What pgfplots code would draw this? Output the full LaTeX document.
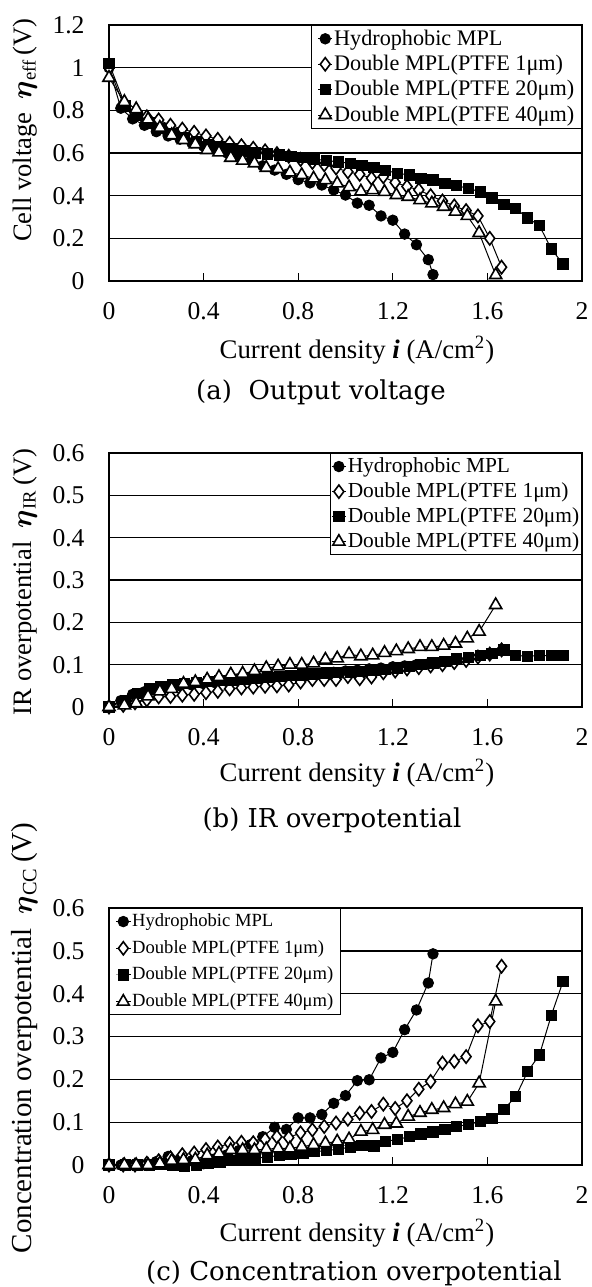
\documentclass[border=0pt]{standalone}
\usepackage{fontspec}
\setmainfont{Liberation Serif}
\newfontfamily\capfont{DejaVu Serif}
\usepackage{bm}
\usepackage{pgfplots}
\pgfplotsset{compat=1.18}
\pgfplotsset{
  base/.style={
    scale only axis, width=236.5pt, anchor=south west,
    xmin=0, xmax=2, xtick={0,0.4,0.8,1.2,1.6,2}, xticklabels={0,0.4,0.8,1.2,1.6,2},
    tick align=inside, xtick pos=lower, ytick pos=left,
    major tick length=4pt, ytick style={draw=none}, xtick style={black, line width=0.6pt},
    ymajorgrids, grid style={black, line width=0.65pt},
    axis line style={line width=0.75pt},
    every tick label/.append style={font=\fontsize{12.8}{14}\selectfont},
    yticklabel style={xshift=-8.7pt},
    xticklabel style={yshift=-7.4pt},
    clip=false,
    legend cell align=left,
    legend image code/.code={\draw[mark repeat=2,mark phase=2,##1] plot coordinates {(0pt,0pt) (3.6pt,0pt) (7.2pt,0pt)};},
  },
  sH/.style={black, line width=0.5pt, mark=*, mark size=2.6pt, mark options={solid, fill=black, line width=0.5pt}},
  sA/.style={black, line width=0.5pt, mark=diamond*, mark size=3.3pt, mark options={solid, fill=white, line width=0.8pt}},
  sB/.style={black, line width=0.5pt, mark=square*, mark size=2.6pt, mark options={solid, fill=black, line width=0.5pt}},
  sC/.style={black, line width=0.5pt, mark=triangle*, mark size=3.5pt, mark options={solid, fill=white, line width=0.8pt}},
}
\newcommand{\labfont}{\fontsize{13.4}{15}\selectfont}
\newcommand{\ylabfont}{\fontsize{13.3}{15}\selectfont}
\newcommand{\capf}{\capfont\fontsize{13}{15}\selectfont}
\begin{document}
\begin{tikzpicture}
\useasboundingbox (0,0) rectangle (295.5pt,-643.5pt);
% ---------------- (a)
\begin{axis}[base, at={(54.5pt,-140.5pt)}, height=128pt,
  ymin=0, ymax=1.2, ytick={0,0.2,0.4,0.6,0.8,1,1.2}, yticklabels={0,0.2,0.4,0.6,0.8,1,1.2},
  legend style={at={(rel axis cs:1,1)}, anchor=north east, draw=black, line width=0.6pt, fill=white,
    font=\fontsize{11.1}{13}\selectfont, inner xsep=3pt, inner ysep=1.5pt, row sep=2.5pt,
    nodes={inner xsep=0.6pt, inner ysep=0.5pt}}]
\addplot[sH] coordinates {(0,1.00)(0.05,0.81)(0.10,0.76)(0.15,0.73)(0.20,0.70)(0.25,0.68)(0.30,0.665)(0.35,0.648)(0.40,0.632)(0.45,0.615)(0.50,0.60)(0.55,0.585)(0.60,0.565)(0.65,0.54)(0.70,0.52)(0.75,0.50)(0.80,0.475)(0.85,0.46)(0.90,0.45)(0.95,0.427)(1.00,0.403)(1.05,0.365)(1.10,0.355)(1.15,0.305)(1.20,0.285)(1.25,0.22)(1.30,0.17)(1.35,0.10)(1.37,0.03)};
\addplot[sA] coordinates {(0,1.00)(0.06,0.83)(0.11,0.79)(0.16,0.77)(0.21,0.755)(0.26,0.73)(0.31,0.712)(0.36,0.697)(0.41,0.68)(0.46,0.664)(0.51,0.645)(0.56,0.634)(0.61,0.622)(0.66,0.61)(0.71,0.597)(0.76,0.585)(0.81,0.57)(0.86,0.556)(0.91,0.545)(0.96,0.53)(1.01,0.512)(1.06,0.50)(1.11,0.482)(1.16,0.489)(1.21,0.462)(1.26,0.443)(1.31,0.427)(1.36,0.40)(1.41,0.375)(1.46,0.352)(1.51,0.33)(1.56,0.305)(1.61,0.20)(1.66,0.065)};
\addplot[sB] coordinates {(0,1.02)(0.07,0.82)(0.12,0.775)(0.17,0.74)(0.22,0.715)(0.27,0.69)(0.32,0.67)(0.37,0.655)(0.42,0.64)(0.47,0.63)(0.52,0.62)(0.57,0.61)(0.62,0.60)(0.67,0.595)(0.72,0.59)(0.77,0.585)(0.82,0.578)(0.87,0.57)(0.92,0.565)(0.97,0.558)(1.02,0.552)(1.07,0.541)(1.12,0.532)(1.17,0.518)(1.22,0.505)(1.27,0.497)(1.32,0.481)(1.37,0.473)(1.42,0.458)(1.47,0.447)(1.52,0.434)(1.57,0.418)(1.62,0.39)(1.67,0.36)(1.72,0.34)(1.77,0.295)(1.82,0.26)(1.87,0.15)(1.92,0.08)};
\addplot[sC] coordinates {(0,0.953)(0.065,0.84)(0.115,0.806)(0.165,0.758)(0.215,0.719)(0.265,0.684)(0.315,0.661)(0.365,0.641)(0.415,0.614)(0.465,0.603)(0.515,0.578)(0.565,0.564)(0.615,0.552)(0.665,0.531)(0.715,0.525)(0.765,0.509)(0.815,0.497)(0.865,0.481)(0.915,0.473)(0.965,0.458)(1.015,0.44)(1.065,0.42)(1.115,0.426)(1.165,0.418)(1.215,0.403)(1.265,0.395)(1.315,0.379)(1.365,0.364)(1.415,0.348)(1.465,0.325)(1.515,0.305)(1.565,0.225)(1.635,0.028)};
\legend{Hydrophobic MPL, Double MPL(PTFE 1μm), Double MPL(PTFE 20μm), Double MPL(PTFE 40μm)}
\end{axis}
% ---------------- (b)
\begin{axis}[base, at={(54.5pt,-353.5pt)}, height=127pt,
  ymin=0, ymax=0.6, ytick={0,0.1,0.2,0.3,0.4,0.5,0.6}, yticklabels={0,0.1,0.2,0.3,0.4,0.5,0.6},
  legend style={at={(rel axis cs:1,1)}, anchor=north east, draw=black, line width=0.6pt, fill=white,
    font=\fontsize{10.7}{12.5}\selectfont, inner xsep=0.5pt, inner ysep=1.5pt, row sep=2.6pt,
    nodes={inner xsep=0.6pt, inner ysep=0.5pt}}]
\addplot[sH] coordinates {(0,0)(0.05,0.015)(0.10,0.03)(0.15,0.036)(0.20,0.042)(0.25,0.046)(0.30,0.05)(0.35,0.052)(0.40,0.055)(0.45,0.057)(0.50,0.06)(0.55,0.062)(0.60,0.065)(0.65,0.067)(0.70,0.07)(0.75,0.072)(0.80,0.075)(0.85,0.077)(0.90,0.08)(0.95,0.082)(1.00,0.085)(1.05,0.087)(1.10,0.09)(1.15,0.092)(1.20,0.095)(1.25,0.097)(1.30,0.10)(1.35,0.102)(1.37,0.104)};
\addplot[sA] coordinates {(0,0)(0.06,0.004)(0.11,0.01)(0.16,0.017)(0.21,0.024)(0.26,0.025)(0.31,0.028)(0.36,0.03)(0.41,0.034)(0.46,0.037)(0.51,0.043)(0.56,0.045)(0.61,0.047)(0.66,0.049)(0.71,0.05)(0.76,0.052)(0.81,0.059)(0.86,0.065)(0.91,0.065)(0.96,0.065)(1.01,0.072)(1.06,0.067)(1.11,0.071)(1.16,0.081)(1.21,0.085)(1.26,0.09)(1.31,0.093)(1.36,0.097)(1.41,0.10)(1.46,0.105)(1.51,0.11)(1.56,0.118)(1.61,0.125)(1.66,0.135)};
\addplot[sB] coordinates {(0,0)(0.07,0.016)(0.12,0.032)(0.17,0.043)(0.22,0.049)(0.27,0.053)(0.32,0.056)(0.37,0.058)(0.42,0.06)(0.47,0.062)(0.52,0.064)(0.57,0.066)(0.62,0.068)(0.67,0.07)(0.72,0.072)(0.77,0.074)(0.82,0.076)(0.87,0.078)(0.92,0.08)(0.97,0.082)(1.02,0.083)(1.07,0.084)(1.12,0.086)(1.17,0.088)(1.22,0.092)(1.27,0.096)(1.32,0.10)(1.37,0.104)(1.42,0.108)(1.47,0.113)(1.52,0.117)(1.57,0.121)(1.62,0.126)(1.67,0.135)(1.72,0.122)(1.77,0.12)(1.82,0.122)(1.87,0.121)(1.92,0.122)};
\addplot[sC] coordinates {(0,0)(0.065,0.004)(0.115,0.009)(0.165,0.025)(0.215,0.037)(0.265,0.043)(0.315,0.055)(0.365,0.059)(0.415,0.065)(0.465,0.071)(0.515,0.077)(0.565,0.079)(0.615,0.085)(0.665,0.092)(0.715,0.096)(0.765,0.10)(0.815,0.10)(0.865,0.103)(0.915,0.112)(0.965,0.115)(1.015,0.125)(1.065,0.12)(1.115,0.122)(1.165,0.128)(1.215,0.132)(1.265,0.137)(1.315,0.142)(1.365,0.142)(1.415,0.145)(1.465,0.15)(1.515,0.162)(1.565,0.178)(1.635,0.241)};
\legend{Hydrophobic MPL, Double MPL(PTFE 1μm), Double MPL(PTFE 20μm), Double MPL(PTFE 40μm)}
\end{axis}
% ---------------- (c)
\begin{axis}[base, at={(54.5pt,-582.5pt)}, height=128.5pt,
  ymin=0, ymax=0.6, ytick={0,0.1,0.2,0.3,0.4,0.5,0.6}, yticklabels={0,0.1,0.2,0.3,0.4,0.5,0.6},
  legend style={at={(rel axis cs:0,1)}, anchor=north west, draw=black, line width=0.6pt, fill=white,
    font=\fontsize{9.3}{11}\selectfont, inner xsep=3pt, inner ysep=2pt, row sep=4.4pt,
    nodes={inner xsep=0.6pt, inner ysep=0.5pt}}]
\addplot[sH] coordinates {(0,0)(0.05,0)(0.10,0)(0.15,0)(0.20,0.008)(0.25,0.02)(0.30,0.014)(0.35,0.01)(0.40,0.003)(0.45,0.014)(0.50,0.024)(0.55,0.034)(0.60,0.048)(0.65,0.066)(0.70,0.088)(0.75,0.083)(0.80,0.11)(0.85,0.11)(0.90,0.118)(0.95,0.144)(1.00,0.162)(1.05,0.197)(1.10,0.199)(1.15,0.25)(1.20,0.263)(1.25,0.316)(1.30,0.362)(1.35,0.425)(1.37,0.493)};
\addplot[sA] coordinates {(0,0)(0.06,0)(0.11,0)(0.16,0.004)(0.21,0.01)(0.26,0.017)(0.31,0.024)(0.36,0.028)(0.41,0.036)(0.46,0.042)(0.51,0.05)(0.56,0.053)(0.61,0.052)(0.66,0.06)(0.71,0.066)(0.76,0.064)(0.81,0.075)(0.86,0.082)(0.91,0.09)(0.96,0.098)(1.01,0.107)(1.06,0.121)(1.11,0.125)(1.16,0.142)(1.21,0.132)(1.26,0.15)(1.31,0.177)(1.36,0.195)(1.41,0.238)(1.46,0.242)(1.51,0.253)(1.56,0.325)(1.61,0.335)(1.66,0.464)};
\addplot[sB] coordinates {(0,0)(0.07,0)(0.12,0)(0.17,0)(0.22,0.002)(0.27,0)(0.32,-0.003)(0.37,0)(0.42,0.003)(0.47,0.007)(0.52,0.01)(0.57,0.013)(0.62,0.016)(0.67,0.019)(0.72,0.022)(0.77,0.025)(0.82,0.028)(0.87,0.031)(0.92,0.034)(0.97,0.037)(1.02,0.042)(1.07,0.046)(1.12,0.044)(1.17,0.055)(1.22,0.06)(1.27,0.066)(1.32,0.072)(1.37,0.077)(1.42,0.083)(1.47,0.09)(1.52,0.095)(1.57,0.101)(1.62,0.109)(1.67,0.13)(1.72,0.16)(1.77,0.218)(1.82,0.257)(1.87,0.349)(1.92,0.429)};
\addplot[sC] coordinates {(0,0)(0.065,0)(0.115,0)(0.165,0)(0.215,0.004)(0.265,0.01)(0.315,0.012)(0.365,0.013)(0.415,0.023)(0.465,0.027)(0.515,0.035)(0.565,0.035)(0.615,0.035)(0.665,0.037)(0.715,0.039)(0.765,0.039)(0.815,0.043)(0.865,0.047)(0.915,0.051)(0.965,0.055)(1.015,0.06)(1.065,0.078)(1.115,0.082)(1.165,0.094)(1.215,0.097)(1.265,0.113)(1.315,0.122)(1.365,0.129)(1.415,0.133)(1.465,0.142)(1.515,0.148)(1.565,0.191)(1.635,0.382)};
\legend{Hydrophobic MPL, Double MPL(PTFE 1μm), Double MPL(PTFE 20μm), Double MPL(PTFE 40μm)}
\end{axis}
% ---------------- labels
\node[rotate=90, font=\ylabfont] at (12.5pt,-65pt) {Cell voltage\ \ $\bm{\eta}$\textsubscript{eff}\,(V)};
\node[rotate=90, font=\ylabfont] at (12.5pt,-291pt) {IR overpotential\ \ $\bm{\eta}$\textsubscript{IR}\,(V)};
\node[rotate=90, font=\fontsize{14.5}{16}\selectfont] at (12.5pt,-519pt) {Concentration overpotential\ \ $\bm{\eta}$\textsubscript{CC}\,(V)};
\node[font=\labfont] at (178.5pt,-175pt) {Current density \textbf{\textit{i}} (A/cm\textsuperscript{2})};
\node[font=\labfont] at (178.5pt,-386.5pt) {Current density \textbf{\textit{i}} (A/cm\textsuperscript{2})};
\node[font=\labfont] at (178.5pt,-616.5pt) {Current density \textbf{\textit{i}} (A/cm\textsuperscript{2})};
\node[font=\capf] at (160.5pt,-196.5pt) {(a)\ \ Output voltage};
\node[font=\capf] at (166pt,-410pt) {(b) IR overpotential};
\node[font=\capf] at (177pt,-636.5pt) {(c) Concentration overpotential};
\end{tikzpicture}
\end{document}
